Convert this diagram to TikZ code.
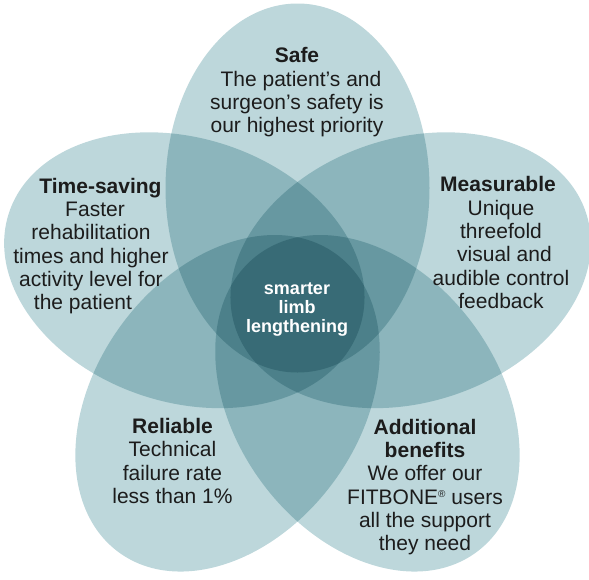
\documentclass[tikz,border=0pt]{standalone}
\usepackage{fontspec}
\setmainfont{Liberation Sans}
\definecolor{petalc}{RGB}{189,215,219}
\definecolor{txtc}{RGB}{28,28,28}
\begin{document}
\begin{tikzpicture}[x=1pt,y=-1pt,
  petal/.style={fill=petalc},
  lbl/.style={align=center,anchor=north,inner sep=0pt,text=txtc,
    font=\fontsize{21}{23.3}\selectfont},
  core/.style={align=center,anchor=north,inner sep=0pt,text=white,
    font=\fontsize{18}{19}\selectfont\bfseries}]
\useasboundingbox (0,0) rectangle (589,579);
\begin{scope}[blend group=multiply]
  \foreach \k in {0,...,4}{
    \fill[petal,shift={(297.5,307)},rotate=72*\k]
      (0,-119) ellipse [x radius=132pt, y radius=184.5pt];
  }
\end{scope}
\node[lbl] (safe) at (297,47.5) {\textbf{Safe}\\
  \hspace*{8pt}The patient’s and\\ surgeon’s safety is\\ our highest priority};
\node[lbl] (time) at (91,177.7) {\hspace*{19pt}\textbf{Time-saving}\\
  \hspace*{8pt}Faster\\ rehabilitation\\ times and higher\\
  activity level for\\ the patient\hspace*{16pt}};
\node[lbl] (meas) at (501,176.4) {\hspace*{-6pt}\textbf{Measurable}\\ Unique\\ threefold\\
  \hspace*{7pt}visual and\\ audible control\\ feedback};
\node[lbl] (rel) at (172.5,418) {\textbf{Reliable}\\ Technical\\ failure rate\\
  less than 1\%};
\node[lbl] (add) at (425,418.7) {\textbf{Additional}\\ \textbf{benefits}\\
  We offer our\\ FITBONE{\fontsize{10}{10}\selectfont\raisebox{6.5pt}{®}} users\\
  all the support\\ they need};
\node[core] (center) at (297,283) {smarter\\ limb\\ lengthening};
\end{tikzpicture}
\end{document}
